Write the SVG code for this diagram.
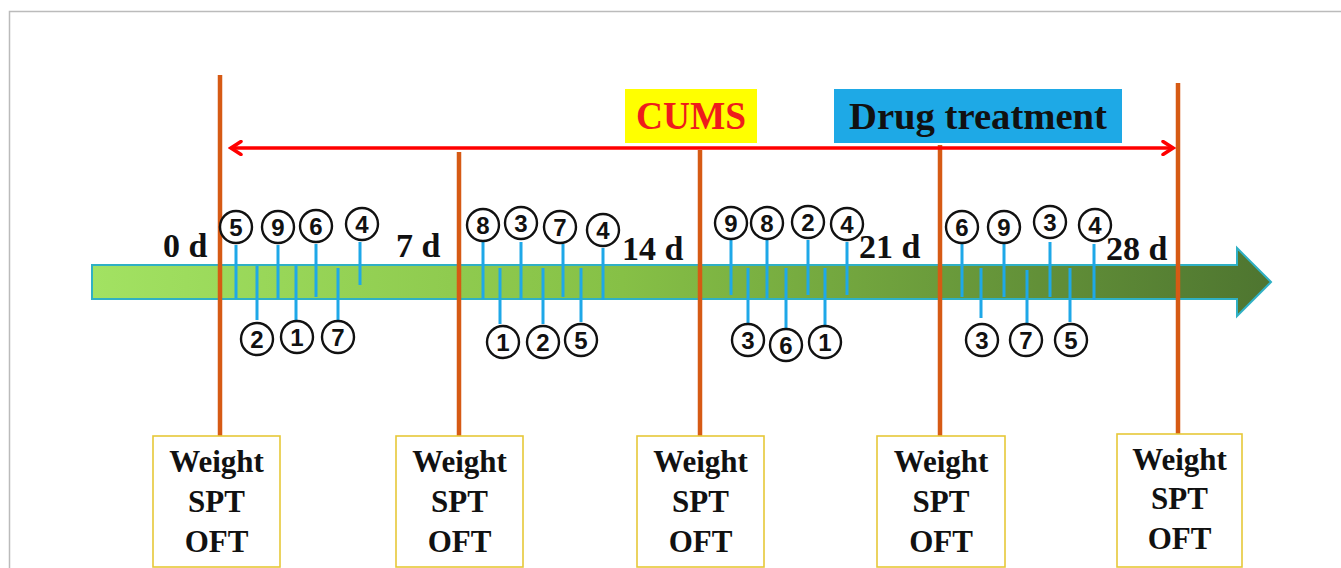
<svg xmlns="http://www.w3.org/2000/svg" width="1341" height="568" viewBox="0 0 1341 568">
<style>
.day{font-family:"Liberation Serif",serif;font-weight:bold;font-size:34px;fill:#111}
.bx{fill:#fff;stroke:#e6c838;stroke-width:1.6}
.bt{font-family:"Liberation Serif",serif;font-weight:bold;font-size:31px;fill:#111;text-anchor:middle}
.c{fill:#fff;stroke:#111;stroke-width:2.4}
.n{font-family:"Liberation Sans",Arial,sans-serif;font-weight:bold;font-size:24px;fill:#111;text-anchor:middle}
.tk{stroke:#1ea8e8;stroke-width:3;fill:none}
.vl{stroke:#d65a14;stroke-width:4.5}
</style>
<defs>
<linearGradient id="g" x1="92" y1="0" x2="1271" y2="0" gradientUnits="userSpaceOnUse">
<stop offset="0" stop-color="#a2e262"/>
<stop offset="0.45" stop-color="#86c046"/>
<stop offset="1" stop-color="#4e7530"/>
</linearGradient>
<marker id="ah" viewBox="0 0 16 16" refX="13" refY="8" markerWidth="16" markerHeight="16" markerUnits="userSpaceOnUse" orient="auto-start-reverse">
<path d="M3,1.5 L13,8 L3,14.5" fill="none" stroke="#ff0000" stroke-width="3.5" stroke-linecap="round"/>
</marker>
</defs>
<rect x="9.5" y="11.5" width="1340" height="570" fill="#fff" stroke="#bbb" stroke-width="1.5"/>
<g id="timeline">
<polygon points="92,265 1237,265 1237,248 1271,282 1237,316 1237,299 92,299" fill="url(#g)" stroke="#2fb0c4" stroke-width="2"/>
</g>
<g id="connectors">
<line class="vl" x1="220" y1="75" x2="220" y2="436"/>
<line class="vl" x1="459" y1="152" x2="459" y2="436"/>
<line class="vl" x1="700" y1="150" x2="700" y2="436"/>
<line class="vl" x1="940" y1="145" x2="940" y2="436"/>
<line class="vl" x1="1178" y1="83" x2="1178" y2="434"/>
<line x1="231" y1="148" x2="1173" y2="148" stroke="#ff0000" stroke-width="3.5" marker-start="url(#ah)" marker-end="url(#ah)"/>
<path class="tk" d="M236,245V299M278,245V299M316,244V297M360,242V285M257,266V320M296,265V320M338,268V320"/>
<path class="tk" d="M483,242V299M521,242V300M563,244V297M603,248V300M500,268V324M543,268V324M581,268V322"/>
<path class="tk" d="M731,240V295M767,240V298M808,240V295M847,242V295M748,268V325M786,268V328M825,268V325"/>
<path class="tk" d="M962,242V297M1004,242V297M1050,242V297M1094,244V300M981,268V318M1027,270V325M1070,268V322"/>
</g>
<g id="labels">
<g id="cums"><rect x="625" y="89" width="132" height="54" fill="#ffff00"/><text x="691" y="129" font-family="Liberation Serif,serif" font-weight="bold" font-size="39" fill="#ee1c1c" text-anchor="middle" textLength="110" lengthAdjust="spacingAndGlyphs">CUMS</text></g>
<g id="drug"><rect x="834" y="89" width="288" height="54" fill="#1ea9e6"/><text x="978" y="129" font-family="Liberation Serif,serif" font-weight="bold" font-size="38" fill="#111" text-anchor="middle" textLength="258" lengthAdjust="spacingAndGlyphs">Drug treatment</text></g>
<text class="day" x="163" y="257">0 d</text>
<text class="day" x="396" y="257">7 d</text>
<text class="day" x="622" y="260">14 d</text>
<text class="day" x="859" y="258">21 d</text>
<text class="day" x="1106" y="260">28 d</text>
</g>
<g id="circles">
<g><circle class="c" cx="236" cy="227" r="16"/><text class="n" x="236" y="236">5</text></g>
<g><circle class="c" cx="278" cy="227" r="16"/><text class="n" x="278" y="236">9</text></g>
<g><circle class="c" cx="316" cy="226" r="16"/><text class="n" x="316" y="235">6</text></g>
<g><circle class="c" cx="362" cy="224" r="16"/><text class="n" x="362" y="233">4</text></g>
<g><circle class="c" cx="257" cy="339" r="16"/><text class="n" x="257" y="348">2</text></g>
<g><circle class="c" cx="297" cy="337" r="16"/><text class="n" x="297" y="346">1</text></g>
<g><circle class="c" cx="338" cy="337" r="16"/><text class="n" x="338" y="346">7</text></g>
<g><circle class="c" cx="483" cy="225" r="16"/><text class="n" x="483" y="234">8</text></g>
<g><circle class="c" cx="521" cy="223" r="16"/><text class="n" x="521" y="232">3</text></g>
<g><circle class="c" cx="560" cy="227" r="16"/><text class="n" x="560" y="236">7</text></g>
<g><circle class="c" cx="603" cy="230" r="16"/><text class="n" x="603" y="239">4</text></g>
<g><circle class="c" cx="503" cy="342" r="16"/><text class="n" x="503" y="351">1</text></g>
<g><circle class="c" cx="543" cy="342" r="16"/><text class="n" x="543" y="351">2</text></g>
<g><circle class="c" cx="581" cy="340" r="16"/><text class="n" x="581" y="349">5</text></g>
<g><circle class="c" cx="731" cy="223" r="16"/><text class="n" x="731" y="232">9</text></g>
<g><circle class="c" cx="767" cy="223" r="16"/><text class="n" x="767" y="232">8</text></g>
<g><circle class="c" cx="808" cy="222" r="16"/><text class="n" x="808" y="231">2</text></g>
<g><circle class="c" cx="847" cy="224" r="16"/><text class="n" x="847" y="233">4</text></g>
<g><circle class="c" cx="748" cy="340" r="16"/><text class="n" x="748" y="349">3</text></g>
<g><circle class="c" cx="786" cy="345" r="16"/><text class="n" x="786" y="354">6</text></g>
<g><circle class="c" cx="825" cy="342" r="16"/><text class="n" x="825" y="351">1</text></g>
<g><circle class="c" cx="962" cy="227" r="16"/><text class="n" x="962" y="236">6</text></g>
<g><circle class="c" cx="1004" cy="227" r="16"/><text class="n" x="1004" y="236">9</text></g>
<g><circle class="c" cx="1050" cy="222" r="16"/><text class="n" x="1050" y="231">3</text></g>
<g><circle class="c" cx="1095" cy="225" r="16"/><text class="n" x="1095" y="234">4</text></g>
<g><circle class="c" cx="982" cy="340" r="16"/><text class="n" x="982" y="349">3</text></g>
<g><circle class="c" cx="1026" cy="340" r="16"/><text class="n" x="1026" y="349">7</text></g>
<g><circle class="c" cx="1071" cy="340" r="16"/><text class="n" x="1071" y="349">5</text></g>
</g>
<g id="box0"><rect class="bx" x="153" y="436" width="127" height="131"/><text class="bt" x="216.5" y="472">Weight</text><text class="bt" x="216.5" y="512">SPT</text><text class="bt" x="216.5" y="552">OFT</text></g>
<g id="box7"><rect class="bx" x="396" y="436" width="127" height="131"/><text class="bt" x="459.5" y="472">Weight</text><text class="bt" x="459.5" y="512">SPT</text><text class="bt" x="459.5" y="552">OFT</text></g>
<g id="box14"><rect class="bx" x="637" y="436" width="127" height="131"/><text class="bt" x="700.5" y="472">Weight</text><text class="bt" x="700.5" y="512">SPT</text><text class="bt" x="700.5" y="552">OFT</text></g>
<g id="box21"><rect class="bx" x="877" y="436" width="128" height="131"/><text class="bt" x="941" y="472">Weight</text><text class="bt" x="941" y="512">SPT</text><text class="bt" x="941" y="552">OFT</text></g>
<g id="box28"><rect class="bx" x="1117" y="434" width="125" height="133"/><text class="bt" x="1179.5" y="470">Weight</text><text class="bt" x="1179.5" y="509">SPT</text><text class="bt" x="1179.5" y="549">OFT</text></g>
</svg>
